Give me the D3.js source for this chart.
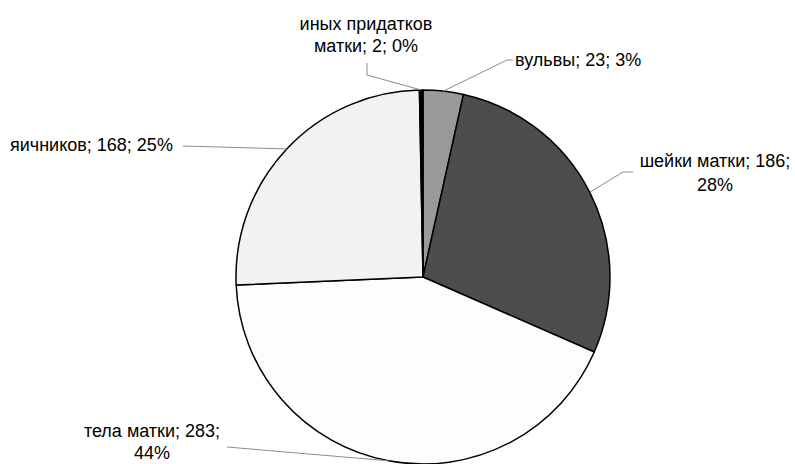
<!DOCTYPE html>
<html>
<head>
<meta charset="utf-8">
<script src="https://cdn.jsdelivr.net/npm/d3@7"></script>
<style>
  html, body { margin: 0; padding: 0; background: #fff; }
  svg { display: block; }
  .lbl { font-family: "Liberation Sans", Arial, sans-serif; font-size: 18px; fill: #000; }
</style>
</head>
<body>
<svg id="chart" width="795" height="464"></svg>
<script>
// Cancer sites, clockwise from 12 o'clock
const categories = ["вульвы", "шейки матки", "тела матки", "яичников", "иных придатков матки"];
const counts = [23, 186, 283, 168, 2];
const percentLabels = ["3%", "28%", "44%", "25%", "0%"];
const fills = ["#999999", "#4d4d4d", "#fdfdfd", "#f2f2f2", "#000000"];

// Label text lines per slice
const labelLines = [
  ["вульвы; 23; 3%"],
  ["шейки матки; 186;", "28%"],
  ["тела матки; 283;", "44%"],
  ["яичников; 168; 25%"],
  ["иных придатков", "матки; 2; 0%"]
];

// Label placement: text anchor point, alignment, line step, and leader path
const labelLayout = [
  { x: 515, y: 66, anchor: "start", step: 0, elbow: [507, 60], end: [513, 60] },
  { x: 715, y: 167, anchor: "middle", step: 24, elbow: [623, 172], end: [633, 172] },
  { x: 152, y: 437, anchor: "middle", step: 22, elbow: [227, 447], end: [227, 447] },
  { x: 10, y: 151, anchor: "start", step: 0, elbow: [183, 146], end: [183, 146] },
  { x: 366, y: 30, anchor: "middle", step: 22, elbow: [367, 75], end: [367, 63] }
];

const cx = 423, cy = 277, r = 187;
const svg = d3.select("#chart");
const g = svg.append("g").attr("transform", `translate(${cx},${cy})`);

const pie = d3.pie().sort(null).value(d => d.value);
const arcs = pie(categories.map((c, i) => ({ name: c, value: counts[i], i })));
const arc = d3.arc().innerRadius(0).outerRadius(r);

g.selectAll("path.slice")
  .data(arcs)
  .join("path")
  .attr("class", "slice")
  .attr("d", arc)
  .attr("fill", d => fills[d.data.i])
  .attr("stroke", "#000")
  .attr("stroke-width", 1.5)
  .attr("stroke-linejoin", "round");

// Leader lines from the slice edge to the label
arcs.forEach(d => {
  const L = labelLayout[d.data.i];
  const mid = (d.startAngle + d.endAngle) / 2;
  const p = [cx + r * Math.sin(mid), cy - r * Math.cos(mid)];
  svg.append("path")
    .attr("d", d3.line()([p, L.elbow, L.end]))
    .attr("fill", "none")
    .attr("stroke", "#8c8c8c")
    .attr("stroke-width", 1);
});

// Labels
arcs.forEach(d => {
  const L = labelLayout[d.data.i];
  const t = svg.append("text")
    .attr("class", "lbl")
    .attr("x", L.x).attr("y", L.y)
    .attr("text-anchor", L.anchor);
  labelLines[d.data.i].forEach((line, k) => {
    t.append("tspan").attr("x", L.x).attr("dy", k === 0 ? 0 : L.step).text(line);
  });
});
</script>
</body>
</html>
